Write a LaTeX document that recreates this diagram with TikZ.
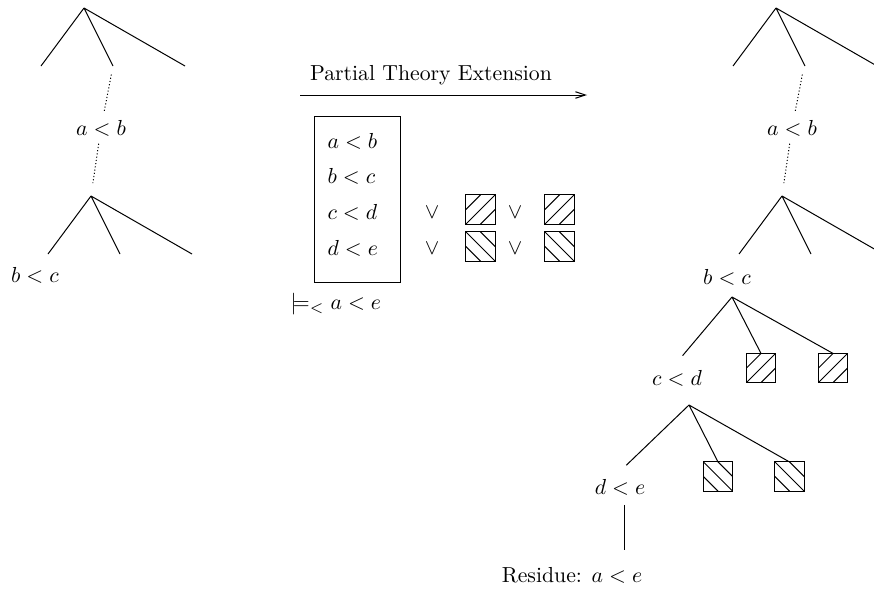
\documentclass[tikz,border=0pt]{standalone}
\usepackage{amsmath,amssymb}
\usetikzlibrary{arrows.meta,calc}
\tikzset{
  dots/.style={dash pattern=on 0.5pt off 1pt},
  hatchNE/.style={draw,inner sep=0pt,outer sep=0pt,minimum size=13.4pt,
    path picture={
      \draw (path picture bounding box.south west) -- (path picture bounding box.north east);
      \draw (path picture bounding box.west) -- (path picture bounding box.north);
      \draw (path picture bounding box.south) -- (path picture bounding box.east);
    }},
  hatchNW/.style={draw,inner sep=0pt,outer sep=0pt,minimum size=13.4pt,
    path picture={
      \draw (path picture bounding box.north west) -- (path picture bounding box.south east);
      \draw (path picture bounding box.west) -- (path picture bounding box.south);
      \draw (path picture bounding box.north) -- (path picture bounding box.east);
    }},
  row/.style={anchor=west,inner sep=0pt},
}
\begin{document}
\begin{tikzpicture}[x=0.46pt,y=-0.46pt,line width=0.46pt]
  \useasboundingbox (0,0) rectangle (874,590);
  \clip (0,0) rectangle (874,590);
  % left tree
  \coordinate (L1) at (84,8);
  \coordinate (L1m) at (113,66);
  \coordinate (L2) at (91,196);
  \node (lab) at (101,128) {$a<b$};
  \node (lbc) at (35,275) {$b<c$};
  % right tree
  \coordinate (R1) at (776,8);
  \coordinate (R1m) at (804,66);
  \coordinate (R2) at (782,196);
  \node (rab) at (792,128) {$a<b$};
  \node (rbc) at (727,277) {$b<c$};
  \coordinate (R3) at (732,297);
  \node (cd) at (677,378) {$c<d$};
  \node[hatchNE] (hb1) at (761,368) {};
  \node[hatchNE] (hb2) at (833,368) {};
  \coordinate (R4) at (689,405);
  \node (de) at (620,487) {$d<e$};
  \node[hatchNW] (hd1) at (718,476.5) {};
  \node[hatchNW] (hd2) at (789.5,476.5) {};
  \node (res) at (572,575) {Residue: $a<e$};
  \foreach \t in {L1,L2,R1,R2}
    \draw (\t) -- ++(-43,58) (\t) -- ++(29,58) (\t) -- ++(101,58);
  \draw[dots,shorten <=4pt] (L1m) -- (lab);
  \draw[dots,shorten >=6pt] (lab) -- (L2);
  \draw[dots,shorten <=4pt] (R1m) -- (rab);
  \draw[dots,shorten >=6pt] (rab) -- (R2);
  \draw[shorten >=4pt] (R3) -- (cd.north);
  \draw (R3) -- (hb1.north) (R3) -- (hb2.north);
  \draw[shorten >=4pt] (R4) -- (de.north);
  \draw (R4) -- (hd1.north) (R4) -- (hd2.north);
  \draw[shorten <=1pt,shorten >=4.5pt] ([xshift=2pt]de.south) -- ([xshift=2pt]de.south |- res.north);
  % extension step
  \coordinate (arrS) at (300,95);
  \coordinate (arrE) at (587,95);
  \draw[-{Straight Barb[length=4.6pt,width=3pt]}] (arrS) -- (arrE);
  \node (ext) at (431,75) {Partial Theory Extension};
  \node[draw,minimum width=40pt,minimum height=76pt] (thy) at (357.5,199.5) {};
  \node[row] (t1) at (327,141) {$a<b$};
  \node[row] (t2) at (327,176) {$b<c$};
  \node[row] (t3) at (327,212) {$c<d$};
  \node[row] (t4) at (327,248) {$d<e$};
  \foreach \x in {432,515} {
    \node at (\x,212) {$\vee$};
    \node at (\x,248) {$\vee$};
  }
  \node[hatchNE] (m1) at (480.5,209.5) {};
  \node[hatchNE] (m2) at (559.5,209.5) {};
  \node[hatchNW] (m3) at (480.5,246.5) {};
  \node[hatchNW] (m4) at (559.5,246.5) {};
  \node[row] (ent) at (290,304) {$\models_{<} a<e$};
\end{tikzpicture}
\end{document}
